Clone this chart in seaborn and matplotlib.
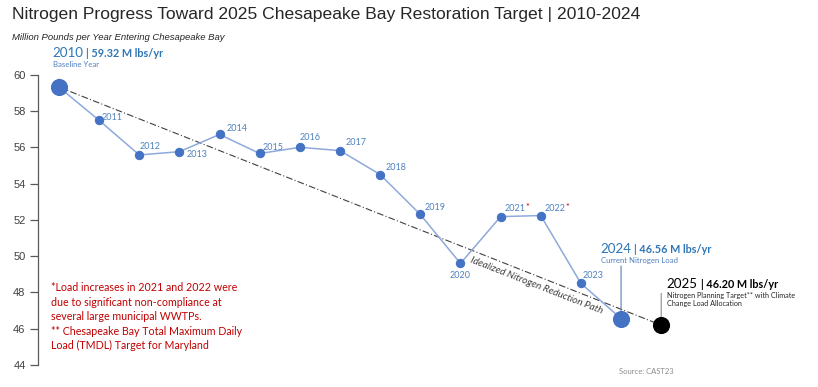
import matplotlib
matplotlib.use("Agg")
import matplotlib.pyplot as plt
import seaborn as sns
import pandas as pd

# data
years = [2010, 2011, 2012, 2013, 2014, 2015, 2016, 2017, 2018, 2019, 2020, 2021, 2022, 2023, 2024]
loads = [59.32, 57.49, 55.58, 55.76, 56.71, 55.66, 56.00, 55.82, 54.50, 52.30, 49.60, 52.18, 52.24, 48.50, 46.56]
target_year = 2025
target_load = 46.20
yticks = [44, 46, 48, 50, 52, 54, 56, 58, 60]

# year label offsets (points) and alignment
label_pos = {
    2011: (2, 2, "left", "center"),
    2012: (0, 6, "left", "center"),
    2013: (5, -2, "left", "center"),
    2014: (5, 4, "left", "center"),
    2015: (2, 4, "left", "center"),
    2016: (0, 7, "left", "center"),
    2017: (4, 6, "left", "center"),
    2018: (4, 5, "left", "center"),
    2019: (3, 5, "left", "center"),
    2020: (0, -9, "center", "center"),
    2021: (3, 6, "left", "center"),
    2022: (3, 5, "left", "center"),
    2023: (1, 6, "left", "center"),
}

df = pd.DataFrame({"year": years, "load": loads})

sns.set_theme(style="white")
plt.rcParams["font.family"] = ["Liberation Sans", "DejaVu Sans"]

blue = "#4472C4"
line_blue = "#8EA9DB"
label_blue = "#4F81BD"
big_blue = "#2E75B6"
red = "#C00000"

fig = plt.figure(figsize=(8.18, 3.87), dpi=100)
ax = fig.add_axes([0.0465, 0.0568, 0.86, 0.75])

# idealized path
ax.plot([years[0], target_year], [loads[0], target_load], color="#404040",
        lw=0.8, ls=(0, (6, 2, 1, 2)), zorder=1)

sns.lineplot(data=df, x="year", y="load", ax=ax, color=line_blue, lw=1.1,
             marker="o", markersize=6, markerfacecolor=blue, markeredgecolor=blue,
             zorder=3)
big = df[df["year"].isin([years[0], years[-1]])]
sns.scatterplot(data=big, x="year", y="load", ax=ax, s=130, color=blue,
                edgecolor=blue, zorder=4, clip_on=False)
sns.scatterplot(x=[target_year], y=[target_load], ax=ax, s=130, color="black",
                edgecolor="black", zorder=4, clip_on=False)

ax.set_xlim(2009.48, 2027)
ax.set_ylim(44, 60)
ax.set_yticks(yticks)
ax.set_xticks([])
ax.set_xlabel("")
ax.set_ylabel("")
for s in ["top", "right", "bottom"]:
    ax.spines[s].set_visible(False)
ax.spines["left"].set_color("#595959")
ax.spines["left"].set_linewidth(0.9)
ax.tick_params(axis="y", direction="out", length=6, width=0.9, color="#595959",
               labelsize=8, labelcolor="#404040", left=True, pad=3)

# year labels
for yr, ld in zip(years, loads):
    if yr not in label_pos:
        continue
    dx, dy, ha, va = label_pos[yr]
    t = ax.annotate(str(yr), (yr, ld), xytext=(dx, dy), textcoords="offset points",
                    ha=ha, va=va, fontsize=6.5, color=label_blue, family="Lato")
    if yr in (2021, 2022):
        ax.annotate("*", xy=(1, 1), xycoords=t, xytext=(-0.3, 0.8), textcoords="offset points",
                    ha="left", va="top", fontsize=6.5, color=red, family="Lato")

# headline annotations
def headline(x, y, year_txt, val_txt, sub_lines, color, dy, sub_color, dx=0, sub_size=5.6):
    t1 = ax.annotate(year_txt, (x, y), xytext=(dx, dy), textcoords="offset points",
                     ha="left", va="baseline", fontsize=9.6, color=color, family="Lato",
                     annotation_clip=False)
    ax.annotate(val_txt, xy=(1, 0), xycoords=t1, xytext=(2, 0), textcoords="offset points",
                ha="left", va="bottom", fontsize=7.8, fontweight="bold", color=color,
                family="Lato", annotation_clip=False)
    ax.annotate(sub_lines, (x, y), xytext=(dx + 0.5, dy - 3), textcoords="offset points",
                ha="left", va="top", fontsize=sub_size, color=sub_color, family="Lato",
                linespacing=1.25, annotation_clip=False)

headline(years[0], loads[0], "2010", "| 59.32 M lbs/yr", "Baseline Year", big_blue, 22, label_blue, dx=-5)
headline(years[-1], loads[-1], "2024", "| 46.56 M lbs/yr", "Current Nitrogen Load", big_blue, 47, label_blue, dx=-15)
headline(target_year, target_load, "2025", "| 46.20 M lbs/yr",
         "Nitrogen Planning Target** with Climate\nChange Load Allocation", "black", 27, "#262626",
         dx=4, sub_size=5.2)

# leader lines
ax.annotate("", xy=(years[0], loads[0]), xytext=(years[0], loads[0] + 0.6),
            arrowprops=dict(arrowstyle="-", color=label_blue, lw=0.8), annotation_clip=False)
ax.annotate("", xy=(years[-1], loads[-1]), xytext=(years[-1], loads[-1] + 3.05),
            arrowprops=dict(arrowstyle="-", color=label_blue, lw=0.8))
ax.annotate("", xy=(target_year, target_load), xytext=(target_year, target_load + 1.9),
            arrowprops=dict(arrowstyle="-", color="#8C8C8C", lw=0.8))

# idealized path label
ax.text(2021.9, 48.36, "Idealized Nitrogen Reduction Path", rotation=-21.4,
        rotation_mode="anchor", ha="center", va="center", fontsize=7.2, style="italic",
        color="#404040", family="Lato")

# footnote
ax.text(2009.8, 48.55,
        "*Load increases in 2021 and 2022 were\ndue to significant non-compliance at\n"
        "several large municipal WWTPs.\n** Chesapeake Bay Total Maximum Daily\n"
        "Load (TMDL) Target for Maryland",
        ha="left", va="top", fontsize=7.7, color=red, family="Lato", linespacing=1.38)

fig.text(619 / 818, 1 - 372 / 387, "Source: CAST23", ha="left", va="center",
         fontsize=5.5, color="#8C8C8C", family="Lato")

fig.text(12 / 818, 1 - 15 / 387,
         "Nitrogen Progress Toward 2025 Chesapeake Bay Restoration Target | 2010-2024",
         ha="left", va="center", fontsize=12.6, color="#262626")
fig.text(12 / 818, 1 - 38 / 387, "Million Pounds per Year Entering Chesapeake Bay",
         ha="left", va="center", fontsize=6.8, style="italic", color="#262626")

fig.savefig("out.png", dpi=100, facecolor="white")
